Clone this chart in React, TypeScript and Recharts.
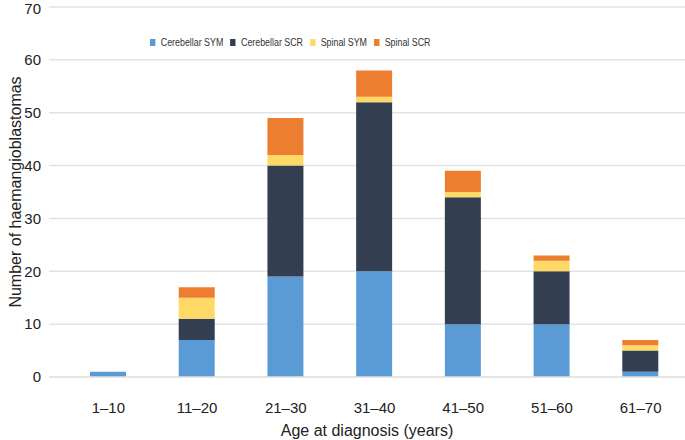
import {Bar, BarChart, CartesianGrid, Legend, XAxis, YAxis} from "recharts";

const ageGroups = ["1–10", "11–20", "21–30", "31–40", "41–50", "51–60", "61–70"];
const cerebellarSym = [1, 7, 19, 20, 10, 10, 1];
const cerebellarScr = [0, 4, 21, 32, 24, 10, 4];
const spinalSym = [0, 4, 2, 1, 1, 2, 1];
const spinalScr = [0, 2, 7, 5, 4, 1, 1];
const yTicks = [0, 10, 20, 30, 40, 50, 60, 70];

const series = [
    {key: "cerebellarSym", name: "Cerebellar SYM", color: "#5B9BD5"},
    {key: "cerebellarScr", name: "Cerebellar SCR", color: "#333F50"},
    {key: "spinalSym", name: "Spinal SYM", color: "#FFD966"},
    {key: "spinalScr", name: "Spinal SCR", color: "#ED7D31"},
];

const data = ageGroups.map((age, i) => ({
    age,
    cerebellarSym: cerebellarSym[i],
    cerebellarScr: cerebellarScr[i],
    spinalSym: spinalSym[i],
    spinalScr: spinalScr[i],
}));

const font = "'Liberation Sans', Arial, Helvetica, sans-serif";

// legend text in the original is narrow, so squeeze it a bit
const LegendRow = () => <div style={{
    display: "flex", whiteSpace: "nowrap", fontSize: 11.5, color: "#333", fontFamily: font,
    transform: "scaleX(0.77)", transformOrigin: "left center"
}}>
    {series.map(s => <span key={s.key} style={{display: "inline-flex", alignItems: "center", marginRight: 9}}>
        <span style={{width: 7, height: 7, background: s.color, display: "inline-block", marginRight: 7}}/>
        {s.name}
    </span>)}
</div>;

const YLabel = ({viewBox}: any) => {
    const cy = viewBox.y + viewBox.height / 2;
    return <text x={15} y={cy} transform={`rotate(-90, 15, ${cy})`} textAnchor="middle"
                 dominantBaseline="central" fill="#222" fontSize={16} fontFamily={font}>
        Number of haemangioblastomas
    </text>;
};

export default function App() {
    return <div style={{fontFamily: font}}>
        <style>{`body{margin:0}`}</style>
        <BarChart width={685} height={440} data={data}
                  margin={{top: 7, right: 0, bottom: 0, left: 0}}
                  barSize={36}>
            <CartesianGrid vertical={false} stroke="#e3e3e3" strokeWidth={1.5}/>
            <XAxis dataKey="age" padding={{left: 15, right: 0}}
                   axisLine={{stroke: "#e3e3e3", strokeWidth: 1.5}} tickLine={false}
                   tick={{fill: "#222", fontSize: 15, fontFamily: font}} tickMargin={19} height={63}
                   label={{value: "Age at diagnosis (years)", position: "insideBottom", offset: 4,
                       fill: "#222", fontSize: 16, fontFamily: font}}/>
            <YAxis type="number" domain={[0, 70]} ticks={yTicks} width={49}
                   axisLine={false} tickLine={false} tickMargin={2}
                   tick={{fill: "#222", fontSize: 15, fontFamily: font}}
                   label={<YLabel/>}/>
            <Legend verticalAlign="middle" align="center" content={<LegendRow/>}
                    wrapperStyle={{top: 36, left: 150, width: 300}}/>
            {series.map(s => <Bar key={s.key} dataKey={s.key} name={s.name} stackId="a" fill={s.color}
                                  isAnimationActive={false}/>)}
        </BarChart>
    </div>
}
